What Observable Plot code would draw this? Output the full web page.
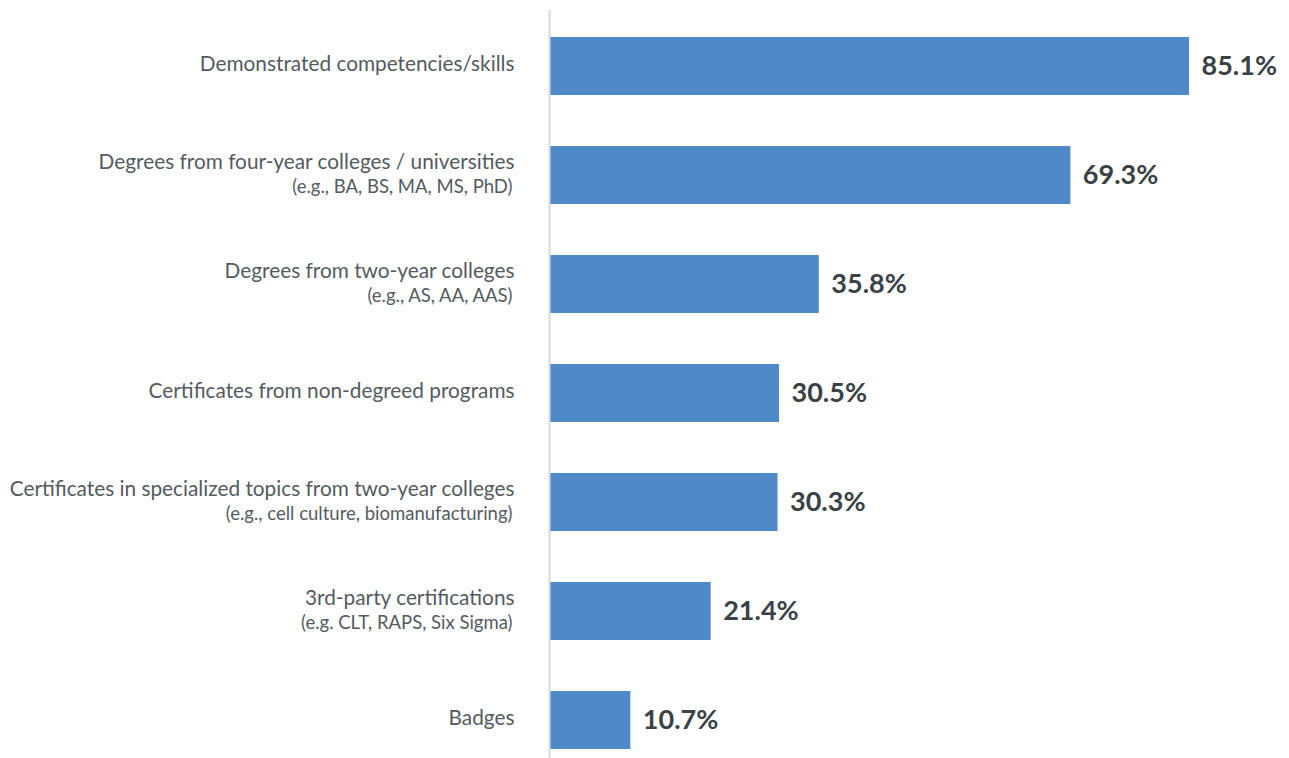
<!DOCTYPE html>
<html>
<head>
<meta charset="utf-8">
<script src="https://cdn.jsdelivr.net/npm/d3@7"></script>
<script src="https://cdn.jsdelivr.net/npm/@observablehq/plot@0.6"></script>
<style>
  html, body { margin: 0; padding: 0; background: #fff; }
  #chart svg { display: block; }
</style>
</head>
<body>
<div id="chart"></div>
<script>
const categories = [
  "Demonstrated competencies/skills",
  "Degrees from four-year colleges / universities",
  "Degrees from two-year colleges",
  "Certificates from non-degreed programs",
  "Certificates in specialized topics from two-year colleges",
  "3rd-party certifications",
  "Badges"
];
const subtitles = [
  "",
  "(e.g., BA, BS, MA, MS, PhD)",
  "(e.g., AS, AA, AAS)",
  "",
  "(e.g., cell culture, biomanufacturing)",
  "(e.g. CLT, RAPS, Six Sigma)",
  ""
];
const values = [85.1, 69.3, 35.8, 30.5, 30.3, 21.4, 10.7];

const data = categories.map((c, i) => ({cat: c, sub: subtitles[i], value: values[i]}));
const withSub = data.filter(d => d.sub);
const noSub = data.filter(d => !d.sub);

const font = "Lato, 'Open Sans', sans-serif";

const chart = Plot.plot({
  width: 1289,
  height: 758,
  marginLeft: 550,
  marginRight: 100,
  marginTop: 10,
  marginBottom: 0,
  style: {fontFamily: font, background: "#fff"},
  x: {domain: [0, 85.1], axis: null},
  y: {domain: categories, range: [10.4, 774.6], paddingInner: 0.47, paddingOuter: 0.235, axis: null},
  marks: [
    Plot.barX(data, {x: "value", y: "cat", fill: "#4f89c8"}),
    Plot.ruleX([0], {stroke: "#d9d9d9", strokeWidth: 2, dx: -1}),
    Plot.text(noSub, {x: 0, y: "cat", text: "cat", dx: -36, dy: -2, textAnchor: "end",
      fill: "#545b60", fontSize: 20.8}),
    Plot.text(withSub, {x: 0, y: "cat", text: "cat", dx: -36, dy: -13, textAnchor: "end",
      fill: "#545b60", fontSize: 20.8}),
    Plot.text(withSub, {x: 0, y: "cat", text: "sub", dx: -38, dy: 12, textAnchor: "end",
      fill: "#545b60", fontSize: 18.5}),
    Plot.text(data, {x: "value", y: "cat", text: d => d.value.toFixed(1) + "%", dx: 12,
      textAnchor: "start", fill: "#3a4245", fontSize: 27, fontWeight: "bold"})
  ]
});
document.getElementById("chart").append(chart);
</script>
</body>
</html>
